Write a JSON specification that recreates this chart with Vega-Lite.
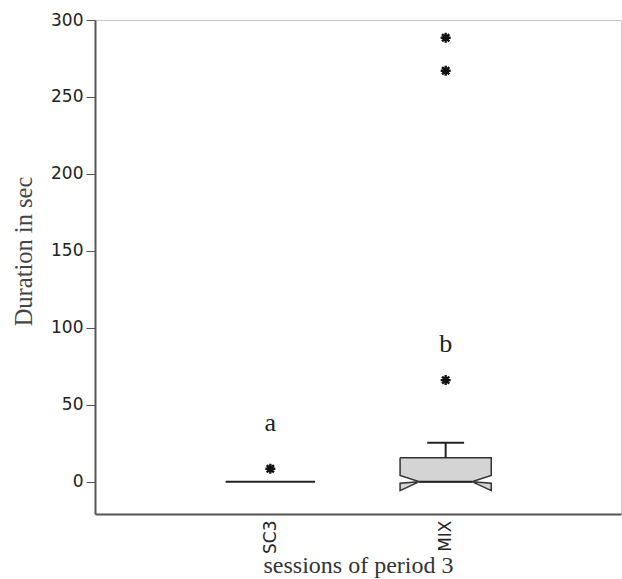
{
  "$schema": "https://vega.github.io/schema/vega-lite/v6.json",
  "width": 526,
  "height": 494,
  "autosize": {"type": "none"},
  "padding": {"left": 95, "top": 20, "right": 1, "bottom": 65},
  "background": "white",
  "config": {"view": {"stroke": "#c8c8c8", "strokeWidth": 1}},
  "datasets": {
    "box": [
      {"part": "body", "o": 1, "x": 1.74, "y": 15.6},
      {"part": "body", "o": 2, "x": 2.26, "y": 15.6},
      {"part": "body", "o": 3, "x": 2.26, "y": 4},
      {"part": "body", "o": 4, "x": 2.15, "y": 0},
      {"part": "body", "o": 5, "x": 1.85, "y": 0},
      {"part": "body", "o": 6, "x": 1.74, "y": 4},
      {"part": "body", "o": 7, "x": 1.74, "y": 15.6},
      {"part": "left", "o": 1, "x": 1.85, "y": 0},
      {"part": "left", "o": 2, "x": 1.74, "y": -1},
      {"part": "left", "o": 3, "x": 1.74, "y": -5.8},
      {"part": "left", "o": 4, "x": 1.85, "y": 0},
      {"part": "right", "o": 1, "x": 2.15, "y": 0},
      {"part": "right", "o": 2, "x": 2.26, "y": -1},
      {"part": "right", "o": 3, "x": 2.26, "y": -5.8},
      {"part": "right", "o": 4, "x": 2.15, "y": 0}
    ],
    "segments": [
      {"x": 0.745, "x2": 1.255, "y": 0, "y2": 0},
      {"x": 1.85, "x2": 2.15, "y": 0, "y2": 0},
      {"x": 2, "x2": 2, "y": 15.6, "y2": 25.3},
      {"x": 1.895, "x2": 2.105, "y": 25.3, "y2": 25.3}
    ],
    "outliers": [
      {"session": "SC3", "x": 1, "y": 8.4},
      {"session": "MIX", "x": 2, "y": 66},
      {"session": "MIX", "x": 2, "y": 267},
      {"session": "MIX", "x": 2, "y": 288.5}
    ],
    "letters": [
      {"x": 1, "y": 33, "label": "a"},
      {"x": 2, "y": 84.5, "label": "b"}
    ]
  },
  "layer": [
    {
      "data": {"name": "box"},
      "mark": {"type": "line", "fill": "#d4d4d4", "stroke": "#333333", "strokeWidth": 1.5, "strokeJoin": "miter"},
      "encoding": {
        "x": {
          "field": "x", "type": "quantitative",
          "scale": {"domain": [0, 3], "nice": false, "zero": false},
          "axis": {
            "values": [1, 2],
            "labelExpr": "datum.value == 1 ? 'SC3' : 'MIX'",
            "labelAngle": -90,
            "labelAlign": "right",
            "labelBaseline": "middle",
            "labelFont": "DejaVu Sans",
            "labelFontSize": 17,
            "labelColor": "#222222",
            "labelPadding": 6,
            "ticks": false,
            "domainColor": "#555555",
            "domainWidth": 2,
            "grid": false,
            "title": "sessions of period 3",
            "titleFont": "Liberation Serif",
            "titleFontSize": 24,
            "titleFontWeight": "normal",
            "titleColor": "#333333",
            "titlePadding": 0
          }
        },
        "y": {
          "field": "y", "type": "quantitative",
          "scale": {"domain": [-21, 300], "nice": false, "zero": false},
          "axis": {
            "values": [0, 50, 100, 150, 200, 250, 300],
            "labelFont": "DejaVu Sans",
            "labelFontSize": 17,
            "labelColor": "#222222",
            "labelPadding": 3,
            "tickSize": 9,
            "tickColor": "#555555",
            "domainColor": "#555555",
            "domainWidth": 2,
            "grid": false,
            "title": "Duration in sec",
            "titleFont": "Liberation Serif",
            "titleFontSize": 24.5,
            "titleFontWeight": "normal",
            "titleColor": "#444444",
            "titlePadding": 14,
            "titleY": 231
          }
        },
        "detail": {"field": "part"},
        "order": {"field": "o", "type": "quantitative"}
      }
    },
    {
      "data": {"name": "segments"},
      "mark": {"type": "rule", "stroke": "#222222", "strokeWidth": 2},
      "encoding": {
        "x": {"field": "x", "type": "quantitative"},
        "x2": {"field": "x2"},
        "y": {"field": "y", "type": "quantitative"},
        "y2": {"field": "y2"}
      }
    },
    {
      "data": {"name": "outliers"},
      "mark": {
        "type": "point",
        "shape": "M-1,0L1,0M0,-1L0,1M-0.72,-0.72L0.72,0.72M-0.72,0.72L0.72,-0.72",
        "size": 100,
        "filled": false,
        "stroke": "#111111",
        "strokeWidth": 2.4,
        "opacity": 1
      },
      "encoding": {
        "x": {"field": "x", "type": "quantitative"},
        "y": {"field": "y", "type": "quantitative"}
      }
    },
    {
      "data": {"name": "letters"},
      "mark": {"type": "text", "font": "Liberation Serif", "fontSize": 26, "color": "#222222", "baseline": "alphabetic", "align": "center"},
      "encoding": {
        "x": {"field": "x", "type": "quantitative"},
        "y": {"field": "y", "type": "quantitative"},
        "text": {"field": "label"}
      }
    },
    {
      "mark": {"type": "rule", "stroke": "#666666", "strokeWidth": 2.5},
      "encoding": {"y": {"datum": 300}}
    }
  ]
}
